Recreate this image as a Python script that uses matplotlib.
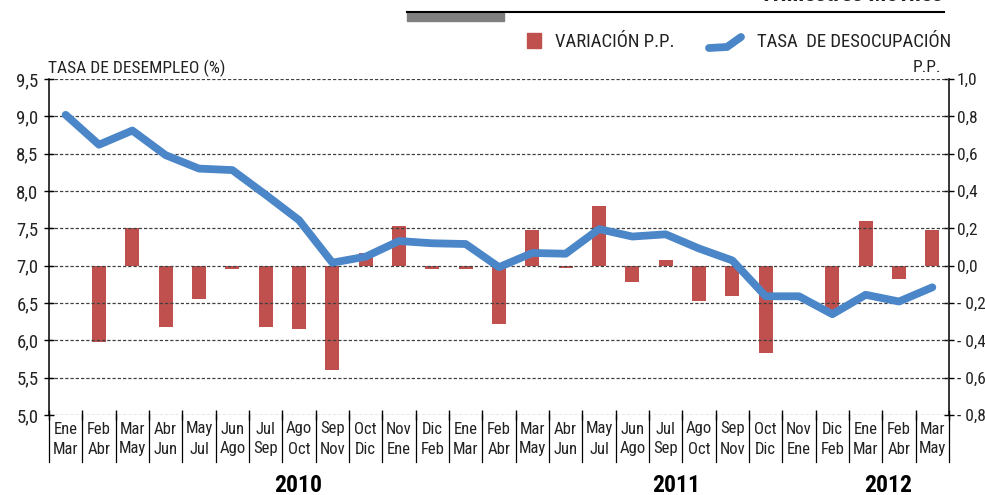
import matplotlib
matplotlib.use("Agg")
import matplotlib.pyplot as plt
import matplotlib.font_manager as fm
import matplotlib.transforms as mtrans
from matplotlib.lines import Line2D
from matplotlib.patches import Rectangle

names = {f.name for f in fm.fontManager.ttflist}
FONT = 'DejaVu Sans'
for cand in ['Liberation Sans Narrow', 'Roboto Condensed', 'Archivo Narrow', 'Sofia Sans Condensed']:
    if cand in names:
        FONT = cand
        break
plt.rcParams['font.family'] = [FONT, 'DejaVu Sans']

# ---- data ----
row1 = ["Ene", "Feb", "Mar", "Abr", "May", "Jun", "Jul", "Ago", "Sep", "Oct", "Nov", "Dic",
        "Ene", "Feb", "Mar", "Abr", "May", "Jun", "Jul", "Ago", "Sep", "Oct", "Nov", "Dic",
        "Ene", "Feb", "Mar"]
row2 = ["Mar", "Abr", "May", "Jun", "Jul", "Ago", "Sep", "Oct", "Nov", "Dic", "Ene", "Feb",
        "Mar", "Abr", "May", "Jun", "Jul", "Ago", "Sep", "Oct", "Nov", "Dic", "Ene", "Feb",
        "Mar", "Abr", "May"]
tasa = [9.02, 8.62, 8.81, 8.48, 8.30, 8.28, 7.95, 7.61, 7.04, 7.12, 7.33, 7.30, 7.29,
        6.98, 7.17, 7.16, 7.49, 7.39, 7.42, 7.23, 7.07, 6.59, 6.59, 6.35, 6.61, 6.52, 6.71]
variacion = [0.0, -0.41, 0.20, -0.33, -0.18, -0.02, -0.33, -0.34, -0.56, 0.07, 0.21, -0.02,
             -0.02, -0.31, 0.19, -0.01, 0.32, -0.09, 0.03, -0.19, -0.16, -0.47, 0.0, -0.25,
             0.24, -0.07, 0.19]
years = ["2010", "2011", "2012"]
left_ticks = [5.0, 5.5, 6.0, 6.5, 7.0, 7.5, 8.0, 8.5, 9.0, 9.5]
right_ticks = [-0.8, -0.6, -0.4, -0.2, 0.0, 0.2, 0.4, 0.6, 0.8, 1.0]

RED = '#C0504D'
BLUE = '#4A86C8'
TXT = '#222222'
W, H = 985, 495

fig = plt.figure(figsize=(W / 100, H / 100), dpi=100)
L, R, B, T = 49, 949, 415, 79
ax = fig.add_axes([L / W, 1 - B / H, (R - L) / W, (B - T) / H])
ax2 = ax.twinx()

n = len(tasa)
x = list(range(n))

ax2.bar(x, variacion, width=0.42, color=RED, zorder=2)
ax.plot(x, tasa, color=BLUE, lw=5.6, solid_capstyle='round', solid_joinstyle='round', zorder=3)

ax.set_zorder(ax2.get_zorder() + 1)
ax.patch.set_visible(False)

ax.set_xlim(-0.5, n - 0.5)
ax.set_ylim(5.0, 9.5)
ax2.set_ylim(-0.8, 1.0)

# grid
for v in left_ticks:
    ax.axhline(v, color='#404040', lw=0.9, ls=(0, (2.6, 1.6)), zorder=1)

ax.set_yticks(left_ticks)
ax.set_yticklabels([f"{v:.1f}".replace('.', ',') for v in left_ticks])
ax2.set_yticks(right_ticks)
ax2.set_yticklabels([(f"- {abs(v):.1f}" if v < 0 else f"{v:.1f}").replace('.', ',') for v in right_ticks])

for a in (ax, ax2):
    for s in a.spines.values():
        s.set_visible(False)
ax.spines['left'].set_visible(True)
ax.spines['left'].set_linewidth(1.1)
ax2.spines['right'].set_visible(True)
ax2.spines['right'].set_linewidth(1.1)

ax.tick_params(axis='y', direction='inout', length=7, width=1.0, labelsize=13.5, pad=4,
               colors='black', labelcolor=TXT)
ax2.tick_params(axis='y', direction='inout', length=7, width=1.0, labelsize=12.5, pad=2,
                colors='black', labelcolor=TXT)

# x ticks at boundaries
ax.set_xticks([i - 0.5 for i in range(n + 1)])
ax.set_xticklabels([])
ax.tick_params(axis='x', direction='inout', length=7, width=1.0)
ax2.tick_params(axis='x', length=0)

# separators and category labels
trans = mtrans.blended_transform_factory(ax.transData, ax.transAxes)
sep_bottom = -(462 - B) / (B - T)
for i in range(n + 1):
    ax.add_line(Line2D([i - 0.5, i - 0.5], [0, sep_bottom], transform=trans, color='black',
                       lw=0.9, clip_on=False))
y1 = -(429 - B) / (B - T)
y2 = -(449 - B) / (B - T)
for i in range(n):
    ax.text(i, y1, row1[i], transform=trans, ha='center', va='center', fontsize=12, color=TXT)
    ax.text(i, y2, row2[i], transform=trans, ha='center', va='center', fontsize=12, color=TXT)

# year labels
for lab, px in zip(years, [298, 676, 888]):
    fig.text(px / W, 1 - 485 / H, lab, ha='center', va='center', fontsize=17, fontweight='bold')

# axis titles
fig.text(48 / W, 1 - 68 / H, "TASA DE DESEMPLEO (%)", ha='left', va='center', fontsize=12.5, color=TXT)
fig.text(941 / W, 1 - 68 / H, "P.P.", ha='right', va='center', fontsize=12.5, color=TXT)

# legend
fig.patches.append(Rectangle((527 / W, 1 - 48 / H), 14 / W, 15 / H, transform=fig.transFigure,
                             color=RED))
fig.text(555 / W, 1 - 42 / H, "VARIACIÓN P.P.", ha='left', va='center', fontsize=13.5, color=TXT)
fig.add_artist(Line2D([709 / W, 727 / W, 741 / W], [1 - 48 / H, 1 - 47 / H, 1 - 37 / H],
                      transform=fig.transFigure, color=BLUE, lw=5.6,
                      solid_capstyle='round', solid_joinstyle='round'))
fig.text(757 / W, 1 - 42 / H, "TASA  DE DESOCUPACIÓN", ha='left', va='center', fontsize=13.5, color=TXT)

# header decoration
fig.patches.append(Rectangle((407 / W, 1 - 21 / H), 97 / W, 9 / H, transform=fig.transFigure,
                             color='#7F7F7F'))
fig.add_artist(Line2D([407 / W, 944 / W], [1 - 12 / H, 1 - 12 / H], transform=fig.transFigure,
                      color='black', lw=1.5))
fig.text(943 / W, 1 + 5 / H, "Trimestres Móviles", ha='right', va='center', fontsize=17,
         fontweight='bold', color=TXT)

fig.savefig('out.png', dpi=100)
